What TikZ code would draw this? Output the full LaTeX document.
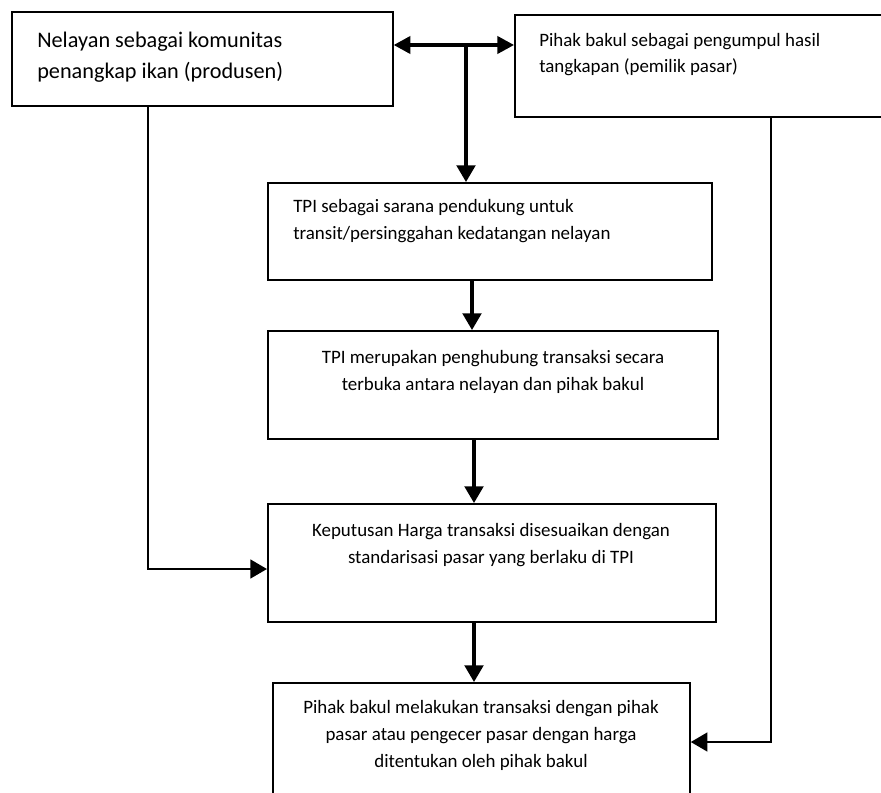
\documentclass[tikz,border=0pt]{standalone}
\usepackage{fontspec}
\setmainfont{Carlito}
\usetikzlibrary{arrows.meta}
\begin{document}
\begin{tikzpicture}[x=0.75pt,y=-0.75pt,
  tip/.style={},
  box/.style={draw=black, line width=1.3pt, inner sep=0pt, anchor=north west},
  conn/.style={line width=2pt, -{Triangle[length=12.5pt,width=14pt]}},
  thick conn/.style={line width=2.3pt, -{Triangle[length=12.5pt,width=14pt]}},
  dbl/.style={line width=2.3pt, {Triangle[length=12.5pt,width=13pt]}-{Triangle[length=12.5pt,width=13pt]}},
  big/.style={font=\fontsize{16.7}{23.25}\selectfont, inner sep=0pt},
  small/.style={font=\fontsize{14.2}{20.25}\selectfont, inner sep=0pt}]
\clip (0,0) rectangle (881,792);
\fill[white] (0,0) rectangle (881,792);
% boxes
\node[box, minimum width=285.75pt, minimum height=70.5pt] (b1) at (11,11) {};
\node[box, minimum width=282pt, minimum height=76.5pt] (b2) at (514,14) {};
\node[box, minimum width=333pt, minimum height=72.75pt] (b3) at (267,182) {};
\node[box, minimum width=337.5pt, minimum height=81pt] (b4) at (267,330) {};
\node[box, minimum width=336pt, minimum height=88.5pt] (b5) at (267,503) {};
\node[box, minimum width=312.75pt, minimum height=88.5pt] (b6) at (272,682) {};
% texts (anchor base = baseline of last line)
\node[big, anchor=base west, align=left] (t1) at (37,79) {Nelayan sebagai komunitas\\penangkap ikan (produsen)};
\node[small, anchor=base west, align=left, font=\fontsize{14.2}{19.5}\selectfont] (t2) at (539,73) {Pihak bakul sebagai pengumpul hasil\\tangkapan (pemilik pasar)};
\node[small, anchor=base west, align=left] (t3) at (293,239) {TPI sebagai sarana pendukung untuk\\transit/persinggahan kedatangan nelayan};
\node[small, anchor=base, align=center] (t4) at (493,390) {TPI merupakan penghubung transaksi secara\\terbuka antara nelayan dan pihak bakul};
\node[small, anchor=base, align=center] (t5) at (491,563) {Keputusan Harga transaksi disesuaikan dengan\\standarisasi pasar yang berlaku di TPI};
\node[small, anchor=base, align=center] (t6) at (481,767) {Pihak bakul melakukan transaksi dengan pihak\\pasar atau pengecer pasar dengan harga\\ditentukan oleh pihak bakul};
% connectors
\coordinate (h) at (0,45);
\draw[dbl] (b1.east |- h) -- (b2.west |- h);
\coordinate (j) at (466,45);
\draw[thick conn] (j) -- (j |- b3.north);
\coordinate (k) at (472,0);
\draw[thick conn] (b3.south -| k) -- (b4.north -| k);
\coordinate (m) at (474,0);
\draw[thick conn] (b4.south -| m) -- (b5.north -| m);
\draw[thick conn] (b5.south -| m) -- (b6.north -| m);
\coordinate (l) at (148,569);
\draw[conn] (b1.south -| l) |- (b5.west |- l);
\coordinate (r) at (771,742);
\draw[conn] (b2.south -| r) |- (b6.east |- r);
\end{tikzpicture}
\end{document}
